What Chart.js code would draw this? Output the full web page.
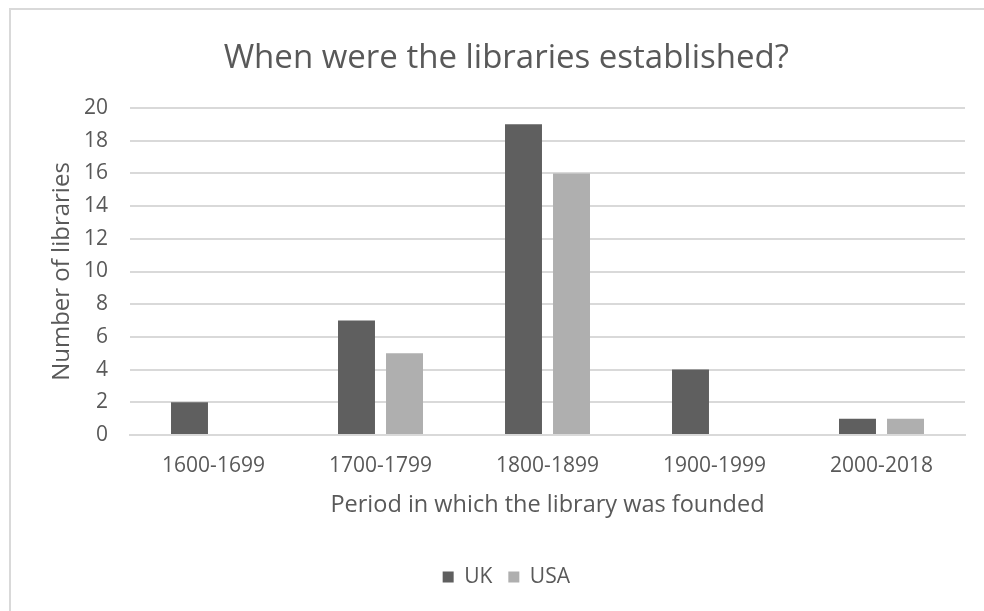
<!DOCTYPE html>
<html><head><meta charset="utf-8">
<script src="https://cdn.jsdelivr.net/npm/chart.js@4/dist/chart.umd.min.js"></script>
<style>
html,body{margin:0;padding:0;background:#fff;overflow:hidden;}
#frame{position:absolute;left:9px;top:8px;width:1000px;height:640px;border-left:2px solid #d9d9d9;border-top:2px solid #d9d9d9;box-sizing:border-box;}
#box{position:absolute;left:0;top:0;width:984px;height:611px;}
</style></head>
<body>
<div id="frame"></div>
<div id="box"><canvas id="c"></canvas></div>
<script>
const categories = ["1600-1699", "1700-1799", "1800-1899", "1900-1999", "2000-2018"];
const ukValues = [2, 7, 19, 4, 1];
const usaValues = [0, 5, 16, 0, 1];
const seriesNames = ["UK", "USA"];
const chartTitle = "When were the libraries established?";
const xTitle = "Period in which the library was founded";
const yTitle = "Number of libraries";

const FONT = "'Open Sans', sans-serif";
const TXT = "#595959";

new Chart(document.getElementById('c'), {
  type: 'bar',
  data: {
    labels: categories,
    datasets: [
      { label: seriesNames[0], data: ukValues, backgroundColor: "#5f5f5f", categoryPercentage: 0.575, barPercentage: 0.77 },
      { label: seriesNames[1], data: usaValues, backgroundColor: "#afafaf", categoryPercentage: 0.575, barPercentage: 0.77 }
    ]
  },
  options: {
    responsive: true,
    maintainAspectRatio: false,
    animation: false,
    layout: { padding: { left: 47.6, right: 19, top: 20, bottom: 13.5 } },
    plugins: {
      title: { display: true, text: chartTitle, color: TXT, font: { family: FONT, size: 33, weight: 'normal' }, padding: { top: 19.2, bottom: 29.2 } },
      legend: { position: 'bottom', labels: { color: TXT, font: { family: FONT, size: 21 }, boxWidth: 11, boxHeight: 11, padding: 16 } },
      tooltip: { enabled: false }
    },
    scales: {
      x: {
        afterFit: (s) => { s.height = 115.5; },
        grid: { display: false, drawTicks: false },
        border: { display: true, color: "#d9d9d9", width: 2 },
        ticks: { color: TXT, font: { family: FONT, size: 21 }, padding: 18, maxRotation: 0 },
        title: { display: true, text: xTitle, color: TXT, font: { family: FONT, size: 23.5 }, padding: { top: 12.7, bottom: 31.4 } }
      },
      y: {
        afterFit: (s) => { s.width = 82.4; },
        min: 0, max: 20,
        grid: { color: "#d9d9d9", lineWidth: 2, drawTicks: false },
        border: { display: false },
        ticks: { stepSize: 2, color: TXT, font: { family: FONT, size: 21 }, padding: 22 },
        title: { display: true, text: yTitle, color: TXT, font: { family: FONT, size: 24 }, padding: { top: 0, bottom: 0 } }
      }
    }
  }
});
</script>
</body></html>
